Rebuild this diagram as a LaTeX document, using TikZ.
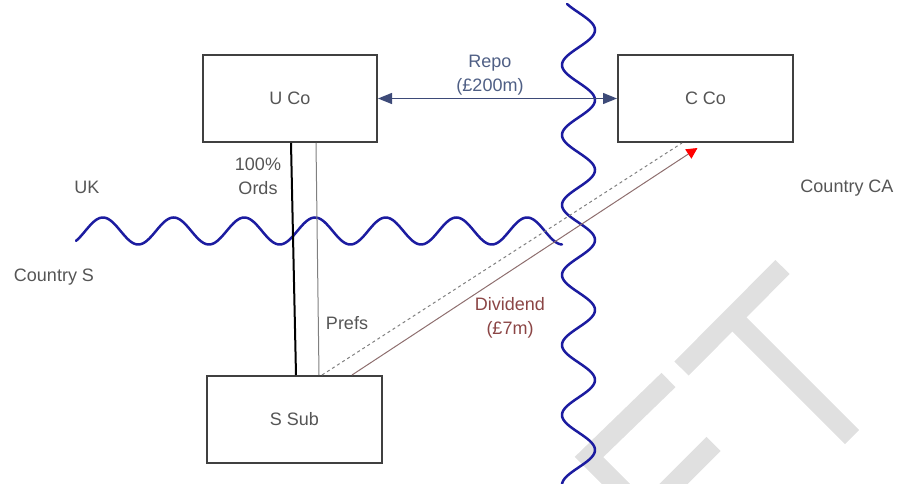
\documentclass[tikz,border=0pt]{standalone}
\usepackage{fontspec}
\setmainfont{Liberation Sans}
\usepackage{tikz}
\usetikzlibrary{arrows.meta}
\usepackage{xcolor}

\definecolor{txtgray}{HTML}{555555}
\definecolor{boxline}{HTML}{404040}
\definecolor{repoblue}{HTML}{3D4A78}
\definecolor{repotext}{HTML}{4F5F85}
\definecolor{divline}{HTML}{8E6E6E}
\definecolor{divtext}{HTML}{8B4545}
\definecolor{border}{HTML}{1C1CA0}
\definecolor{wmark}{HTML}{E0E0E0}

\begin{document}
\begin{tikzpicture}[x=1pt,y=-1pt,
    company/.style={draw=boxline,line width=2pt,fill=white,text=txtgray,
        minimum width=174pt,minimum height=87pt},
    tag/.style={text=txtgray,align=center},
    border/.style={draw=border,line width=2.5pt,line cap=round},
    wm/.style={draw=wmark,line width=20pt}]

    \clip (0,0) rectangle (898,484);
    \fontsize{18}{24}\selectfont

    % watermark
    \draw[wm] (681.5,368.5) -- (782.5,267);
    \draw[wm] (732.5,317.5) -- (852,437);
    \draw[wm,miter limit=4] (668.5,380) -- (589,457) -- (640,508);
    \draw[wm] (713.5,444) -- (653.5,504);

    % borders
    \draw[border] plot[domain=76:562,samples=300] (\x,{231-13.5*cos(5.092*(\x-315))});
    \draw[border] plot[domain=4:490,samples=300] ({578.5+16.5*cos(5.1429*(\x-100))},\x);

    \node[company] (UCo) at (290,98.5) {U Co};
    \node[company,minimum width=175pt] (CCo) at (705.5,98.5) {C Co};
    \node[company,minimum width=175pt] (SSub) at (294.5,419.5) {S Sub};

    \node[tag] (UK) at (87,187) {UK};
    \node[tag] (CoS) at (54,277) {Country S};
    \node[tag] (CoCA) at (847,188) {Country CA};

    \node[tag,text=repotext] (Repo) at (490,75) {Repo\\(£200m)};
    \node[tag] (Ords) at (258,176) {100\%\\Ords};
    \node[tag] (Prefs) at (347,323) {Prefs};
    \node[tag,text=divtext] (Div) at (510,318) {Dividend\\(£7m)};

    \draw[{Triangle[length=14pt,width=11pt]}-{Triangle[length=14pt,width=11pt]},draw=repoblue,fill=repoblue,line width=1.2pt] (UCo) to (CCo);

    \draw[-,draw=black,line width=2pt] ([xshift=1pt]UCo.south) to ([xshift=1.5pt]SSub.north);
    \draw[-,draw=gray,line width=1pt] ([xshift=26pt]UCo.south) to ([xshift=24.5pt]SSub.north);

    \draw[-,draw=gray,dashed,line width=1pt] ([xshift=27.5pt]SSub.north) to ([xshift=-23.5pt]CCo.south);
    \draw[-{Triangle[length=11pt,width=11pt,red]},draw=divline,line width=1pt] ([xshift=57.5pt]SSub.north) to ([xshift=-8pt,yshift=-5pt]CCo.south);

\end{tikzpicture}
\end{document}
